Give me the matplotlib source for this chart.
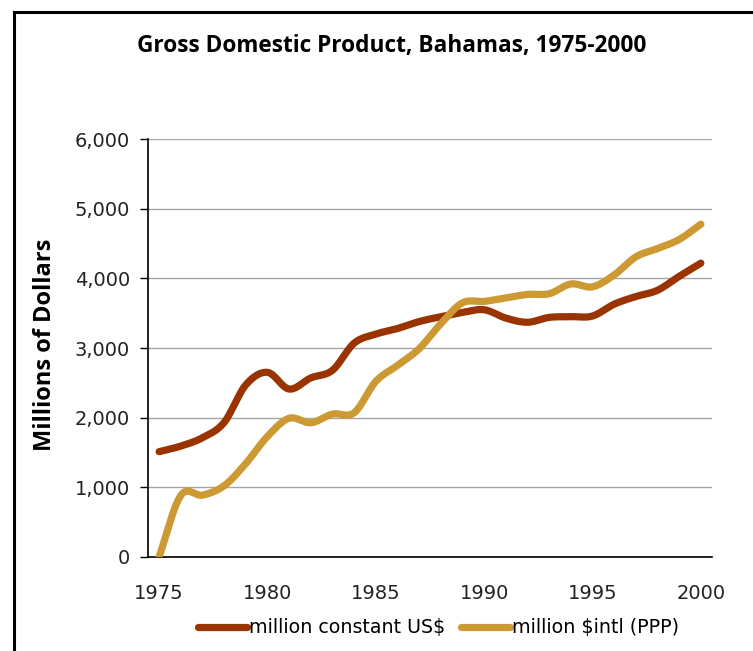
import numpy as np
import matplotlib
matplotlib.use('Agg')
import matplotlib.pyplot as plt
from matplotlib.lines import Line2D

years = list(range(1975, 2001))
constant_usd = [1510, 1590, 1710, 1930, 2470, 2650, 2410, 2570, 2680, 3070,
                3200, 3280, 3380, 3450, 3510, 3550, 3430, 3370, 3440, 3450,
                3460, 3630, 3740, 3830, 4030, 4220]
intl_ppp = [0, 880, 885, 1020, 1340, 1730, 1990, 1925, 2050, 2070,
            2520, 2750, 2990, 3350, 3650, 3670, 3720, 3770, 3780, 3920,
            3880, 4050, 4310, 4430, 4560, 4780]

series_names = ['million constant US$', 'million $intl (PPP)']
series_colors = ['#993300', '#CC9933']

plt.rcParams['font.family'] = ['DejaVu Sans']


def smooth(x, y, n=24):
    # catmull-rom style smoothing like spreadsheet "smoothed line"
    x = np.asarray(x, float)
    y = np.asarray(y, float)
    px = np.concatenate([[2 * x[0] - x[1]], x, [2 * x[-1] - x[-2]]])
    py = np.concatenate([[2 * y[0] - y[1]], y, [2 * y[-1] - y[-2]]])
    xs, ys = [], []
    t = np.linspace(0, 1, n, endpoint=False)
    for i in range(1, len(px) - 2):
        p0, p1, p2, p3 = py[i - 1], py[i], py[i + 1], py[i + 2]
        m1 = (p2 - p0) / 2
        m2 = (p3 - p1) / 2
        h00 = 2 * t**3 - 3 * t**2 + 1
        h10 = t**3 - 2 * t**2 + t
        h01 = -2 * t**3 + 3 * t**2
        h11 = t**3 - t**2
        xs.append(px[i] + t * (px[i + 1] - px[i]))
        ys.append(h00 * p1 + h10 * m1 + h01 * p2 + h11 * m2)
    xs.append([x[-1]])
    ys.append([y[-1]])
    return np.concatenate(xs), np.concatenate(ys)


fig = plt.figure(figsize=(7.53, 6.51), dpi=100)
ax = fig.add_axes([148.3 / 753, 1 - 556.7 / 651, (711.7 - 148.3) / 753, (556.7 - 139.3) / 651])

for vals, color in zip([constant_usd, intl_ppp], series_colors):
    sx, sy = smooth(years, vals)
    ax.plot(sx, sy, color=color, lw=5.2, solid_capstyle='round', zorder=3)

ax.set_xlim(1974.5, 2000.5)
ax.set_ylim(0, 6000)
ax.set_yticks(range(0, 6001, 1000))
ax.set_yticklabels([f'{v:,}' for v in range(0, 6001, 1000)])
ax.set_xticks(range(1975, 2001, 5))
ax.tick_params(axis='x', length=0, pad=20, labelsize=14, labelcolor='#222222')
ax.tick_params(axis='y', length=5.5, width=1, pad=7.5, labelsize=14, labelcolor='#222222',
               color='black')
ax.grid(axis='y', color='#a6a6a6', lw=1)
ax.set_axisbelow(True)
for s in ['top', 'right']:
    ax.spines[s].set_visible(False)
for s in ['left', 'bottom']:
    ax.spines[s].set_color('black')
    ax.spines[s].set_linewidth(1.2)

fig.text(392 / 753, 1 - 46 / 651, 'Gross Domestic Product, Bahamas, 1975-2000',
         ha='center', va='center', fontsize=16.3, fontweight='bold', family='Open Sans')
fig.text(45 / 753, 1 - 345 / 651, 'Millions of Dollars', rotation=90,
         ha='center', va='center', fontsize=17, fontweight='bold', family='Open Sans')

handles = [Line2D([0], [0], color=c, lw=5.2, solid_capstyle='round') for c in series_colors]
fig.legend(handles, series_names, loc='center', bbox_to_anchor=(438.5 / 753, 1 - 628 / 651),
           ncol=2, frameon=False, fontsize=13.7, handlelength=2.6, handletextpad=0.1,
           columnspacing=0.8)

# border of the chart area
fig.add_artist(Line2D([14 / 753, 14 / 753], [0, 1 - 12 / 651], color='black', lw=2.2,
                      transform=fig.transFigure))
fig.add_artist(Line2D([14 / 753, 1], [1 - 12 / 651, 1 - 12 / 651], color='black', lw=2.2,
                      transform=fig.transFigure))

fig.savefig('out.png', dpi=100)
